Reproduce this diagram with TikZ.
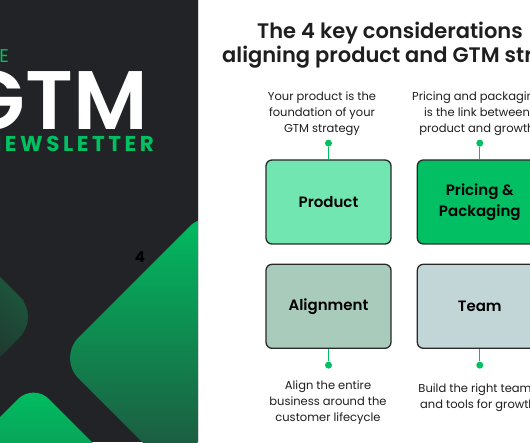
\documentclass[tikz,border=0pt]{standalone}
\usepackage{fontspec}
\setmainfont{Poppins}
\newfontfamily\semibold{Poppins SemiBold}
\usetikzlibrary{positioning,calc}
\definecolor{gtmDark}{RGB}{34,35,39}
\definecolor{gtmGreen}{RGB}{0,192,98}
\definecolor{gtmDeep}{RGB}{35,66,56}
\definecolor{gtmMoss}{RGB}{27,92,62}
\definecolor{gtmInk}{RGB}{30,30,30}
\definecolor{gtmEdge}{RGB}{40,42,42}
\definecolor{gtmRule}{RGB}{215,215,215}
\definecolor{fillProduct}{RGB}{114,230,176}
\definecolor{fillPricing}{RGB}{3,191,99}
\definecolor{fillAlign}{RGB}{169,203,187}
\definecolor{fillTeam}{RGB}{194,213,215}
\tikzset{
    base/.style={align=center, inner sep=0pt},
    card/.style={base, rectangle, rounded corners=6pt, draw=gtmEdge, line width=1.3pt,
                 minimum width=125pt, minimum height=84pt, text=black,
                 font=\fontsize{15}{21}\selectfont\semibold},
    blurb/.style={base, text=gtmInk, font=\fontsize{11.5}{16}\selectfont},
    pin/.style={circle, fill=gtmGreen, inner sep=0pt, minimum size=7pt},
    stem/.style={gtmGreen, line width=1.3pt},
    tile/.style={rounded corners=#1, shading angle=45},
    headline/.style={base, anchor=base west, text=gtmInk,
                     font=\fontsize{21}{26}\selectfont\semibold}
}

\begin{document}
\begin{tikzpicture}[x=1pt, y=1pt, node distance=25pt]
  \useasboundingbox (0,0) rectangle (530,442);
  \clip (0,0) rectangle (530,442);
  \fill[white] (0,0) rectangle (530,442);

  % Left panel
  \fill[gtmDark] (0,0) rectangle (197.5,442);
  \draw[gtmRule, line width=1pt] (198.3,0) -- (198.3,442);
  \begin{scope}
    \clip (0,0) rectangle (197.5,442);
    \shade[tile=29pt, top color=gtmGreen, bottom color=gtmDeep]
      (134,160) -- (210,236) -- (362,84) -- (210,-68) -- (58,84) -- cycle;
    \shade[tile=29pt, top color=gtmMoss, bottom color=gtmDark, shading angle=-45]
      (10,155) -- (40,125) -- (-20,65) -- (-80,125) -- (-20,185) -- cycle;
    \shade[tile=22pt, top color=gtmGreen, bottom color={rgb,255:red,20;green,120;blue,74}]
      (-6.5,18.5) -- (33.5,58.5) -- (113.5,-21.5) -- (33.5,-101.5) -- (-46.5,-21.5) -- cycle;
  \end{scope}
  \node[base, anchor=base east, text=gtmGreen, font=\fontsize{18.5}{20}\selectfont] (the) at (9,379) {THE};
  \node[base, anchor=base east, text=white, font=\fontsize{83}{90}\selectfont\semibold] (gtm) at (148,312) {GTM};
  \node[base, anchor=base east, text=gtmGreen,
        font=\fontsize{21.5}{24}\selectfont\bfseries\addfontfeature{LetterSpace=16.5}] (news) at (154,290) {NEWSLETTER};
  \node[base, text=black, font=\fontsize{15}{16}\selectfont\bfseries] (num) at (140,184.5) {4};

  % Title
  \node[headline] (title1) at (257,403.5) {The 4 key considerations};
  \node[headline] (title2) at (222,379) {aligning product and GTM strategy};

  % Cards
  \node[card, fill=fillProduct] (product) at (328.5,240) {Product};
  \node[card, fill=fillPricing, right=of product] (pricing) {Pricing \&\\Packaging};
  \node[card, fill=fillAlign, below=19pt of product] (align) {Alignment};
  \node[card, fill=fillTeam, below=19pt of pricing] (team) {Team};

  % Pins
  \node[pin, above=12.5pt of product] (pinP) {};
  \node[pin, above=12.5pt of pricing] (pinQ) {};
  \node[pin, below=12.5pt of align] (pinA) {};
  \node[pin, below=12.5pt of team] (pinT) {};
  \draw[stem] (pinP) -- (product);
  \draw[stem] (pinQ) -- (pricing);
  \draw[stem] (pinA) -- (align);
  \draw[stem] (pinT) -- (team);

  % Notes
  \node[blurb] (noteP) at (322,328) {Your product is the\\foundation of your\\GTM strategy};
  \node[blurb] (noteQ) at (477,328) {Pricing and packaging\\is the link between\\product and growth};
  \node[blurb] (noteA) at (328,39.3) {Align the entire\\business around the\\customer lifecycle};
  \node[blurb] (noteT) at (478,44.7) {Build the right teams\\and tools for growth};
\end{tikzpicture}
\end{document}
